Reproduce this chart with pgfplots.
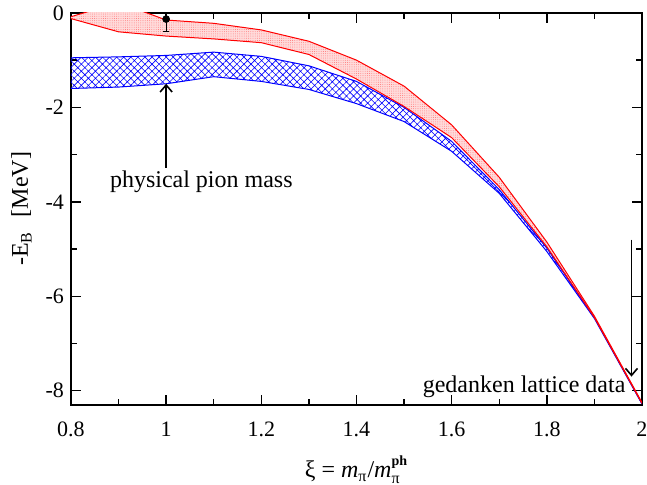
\documentclass[border=0pt]{standalone}
\usepackage{fontspec}
\setmainfont{Liberation Serif}
\usepackage{amsmath}
\usepackage{pgfplots}
\pgfplotsset{compat=1.18}
\usepgfplotslibrary{fillbetween}
\usetikzlibrary{arrows.meta, patterns.meta}

% band edges
\pgfplotstableread{
x    ru     rl     bu     bl
0.8  -0.08  -0.12  -0.95  -1.60
0.9   0.22  -0.40  -0.93  -1.57
1.0  -0.15  -0.49  -0.90  -1.50
1.1  -0.22  -0.55  -0.83  -1.35
1.2  -0.36  -0.63  -0.92  -1.45
1.3  -0.60  -0.88  -1.12  -1.62
1.4  -1.00  -1.40  -1.45  -1.92
1.5  -1.55  -1.98  -2.00  -2.30
1.6  -2.37  -2.64  -2.72  -2.93
1.7  -3.48  -3.68  -3.74  -3.82
1.8  -4.85  -4.95  -4.98  -5.05
1.9  -6.42  -6.45  -6.45  -6.47
2.0  -8.25  -8.27  -8.27  -8.28
}\bands

\begin{document}
\begin{tikzpicture}
\begin{axis}[
  set layers,
  scale only axis,
  width=285.5pt, height=196pt,
  xmin=0.8, xmax=2, ymin=-8.3, ymax=0,
  xtick={0.8,1,...,2.01}, ytick={-8,-6,-4,-2,0},
  minor x tick num=1, minor y tick num=1,
  tick align=inside,
  major tick length=5pt, minor tick length=2.8pt,
  axis line style={line width=0.8pt},
  every tick/.style={black, line width=0.7pt},
  /pgf/number format/assume math mode=true,
  xticklabel style={font=\fontsize{11}{13}\selectfont, yshift=-5pt},
  yticklabel style={font=\fontsize{11}{13}\selectfont},
  xticklabel={\pgfmathprintnumber[fixed]{\tick}},
  yticklabel={\pgfmathprintnumber[fixed]{\tick}},
  xlabel={ξ = \textit{m}$_{\text{π}}$/\textit{m}$_{\text{π}}^{\raisebox{0.15em}{\text{\bfseries\scriptsize ph}}}$},
  ylabel={-E\textsubscript{B}\hspace{0.6em}[MeV]},
  label style={font=\fontsize{12}{14}\selectfont},
  xlabel style={at={(axis description cs:0.5,-0.186)}, anchor=base},
  ylabel style={at={(axis description cs:-0.0753,0.5)}, anchor=base},
]
\addplot[blue, line width=0.5pt, name path=bu] table[x=x, y=bu] {\bands};
\addplot[blue, line width=0.5pt, name path=bl] table[x=x, y=bl] {\bands};
\addplot[red, line width=0.5pt, name path=ru] table[x=x, y=ru] {\bands};
\addplot[red, line width=0.5pt, name path=rl] table[x=x, y=rl] {\bands};

\addplot[fill=red!14, draw=none] fill between[of=ru and rl];
\addplot[pattern={Dots[distance=1.1pt, radius=0.22pt]}, pattern color=red!55, draw=none] fill between[of=ru and rl];
\addplot[pattern={Hatch[angle=45, distance=2.5pt, line width=0.3pt]}, pattern color=blue, draw=none] fill between[of=bu and bl];

\addplot[only marks, mark=*, mark size=1.7pt, black,
  error bars/.cd, y dir=both, y explicit,
  error bar style={line width=0.6pt},
  error mark options={rotate=90, mark size=1.6pt, line width=0.6pt}]
  coordinates {(1,-0.13) += (0,0.13) -= (0,0.27)};

\draw[-{Straight Barb[length=3.5pt, width=6pt]}, line width=0.8pt]
  (axis cs:1,-3.28) -- (axis cs:1,-1.5);
\node[anchor=base, font=\fontsize{12}{14}\selectfont] at (axis cs:1.074,-3.70) {physical pion mass};
\draw[-{Straight Barb[length=3.5pt, width=6pt]}, line width=0.8pt]
  (axis cs:1.978,-4.8) -- (axis cs:1.978,-7.7);
\node[anchor=base east, inner sep=0pt, font=\fontsize{12}{14}\selectfont] at (axis cs:1.966,-8.04) {gedanken lattice data};

\coordinate (bbsw) at (axis description cs:-0.1243,-0.204);
\coordinate (bbne) at (axis description cs:1.0088,1.033);
\end{axis}
\pgfresetboundingbox
\path (bbsw) rectangle (bbne);
\end{tikzpicture}
\end{document}
